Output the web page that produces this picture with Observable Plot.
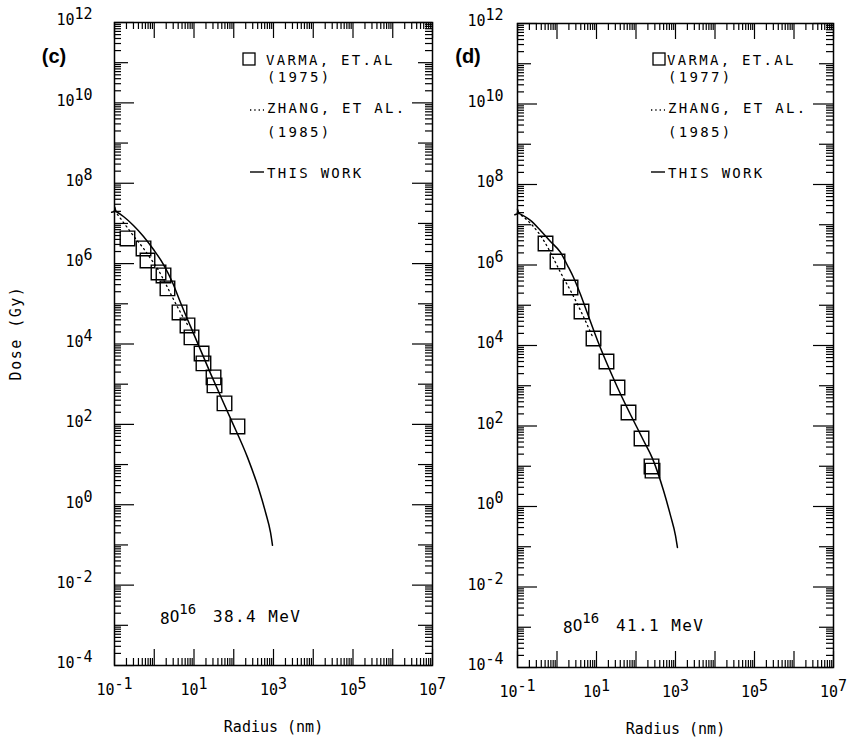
<!DOCTYPE html>
<html><head><meta charset="utf-8">
<script src="https://cdn.jsdelivr.net/npm/d3@7"></script>
<script src="https://cdn.jsdelivr.net/npm/@observablehq/plot@0.6"></script>
<style>
body{margin:0;background:#fff;}
#wrap{position:relative;width:852px;height:746px;overflow:hidden;background:#fff;}
#wrap svg{position:absolute;top:0;}
</style></head><body><div id="wrap"></div>
<script>
// ---- Panel (c): O-16, 38.4 MeV ----
const cVarmaRadius = [0.212,0.537,0.676,1.28,1.71,2.15,4.32,6.86,8.65,15.5,17.3,31,32.8,58.5,124];
const cVarmaDose   = [4.24e6,2.39e6,1.20e6,6.04e5,5.09e5,2.42e5,6.1e4,2.9e4,1.46e4,5.8e3,3.3e3,1.48e3,933,333,89];
const cZhangRadius = [0.1,0.2,0.337,0.537,0.805,1.28,1.92,2.88,4.57,7.28];
const cZhangDose   = [2.1e7,8.4e6,4.24e6,2.39e6,1.35e6,6.8e5,3.2e5,1.44e5,6.1e4,2.74e4];
const cWorkRadius  = [0.1,0.168,0.30,0.537,0.957,1.71,2.88,4.57,8.17,26,82.8,222,420,630,841,944];
const cWorkDose    = [2.1e7,1.49e7,8.9e6,4.75e6,2.25e6,9.5e5,3.4e5,1.08e5,2.74e4,1860,141,15.1,2.57,0.65,0.205,0.098];

// ---- Panel (d): O-16, 41.1 MeV ----
const dVarmaRadius = [0.512,1.03,2.2,4.17,8.4,17.9,34,64.6,138,247,262];
const dVarmaDose   = [3.42e6,1.22e6,2.76e5,7.0e4,1.49e4,4.0e3,906,216,49,9.9,7.8];
const dZhangRadius = [0.1,0.179,0.321,0.512,0.769,1.23,2.2,4.17,7.9];
const dZhangDose   = [2.0e7,1.28e7,6.8e6,3.42e6,1.63e6,6.5e5,2.3e5,6.6e4,1.67e4];
const dWorkRadius  = [0.1,0.213,0.382,0.684,1.23,1.85,2.62,3.94,5.92,10.6,34,155,262,497,746,1000,1120];
const dWorkDose    = [2.0e7,1.28e7,7.2e6,3.84e6,2.05e6,9.7e5,4.9e5,1.85e5,6.2e4,1.33e4,906,43.6,15.5,2.5,0.6,0.19,0.096];

// ---- Axis ticks and labels ----
const xTickValues = [0.1, 10, 1e3, 1e5, 1e7];
const xTickLabels = ["10^-1","10^1","10^3","10^5","10^7"];
const yTickValues = [1e-4,1e-2,1,1e2,1e4,1e6,1e8,1e10,1e12];
const yTickLabels = ["10^-4","10^-2","10^0","10^2","10^4","10^6","10^8","10^10","10^12"];
const xLabel = "Radius (nm)";
const yLabel = "Dose (Gy)";
const legendVarmaC = ["VARMA, ET.AL", "(1975)"];
const legendVarmaD = ["VARMA, ET.AL", "(1977)"];
const legendZhang = ["ZHANG, ET AL.", "(1985)"];
const legendWork = "THIS WORK";

const mono = "'DejaVu Sans Mono','Liberation Mono',monospace";

function pts(rs, ds) { return rs.map((r, i) => ({r, d: ds[i]})); }

function supify(sel) {
  sel.each(function() {
    const t = this.textContent;
    const i = t.indexOf("^");
    if (i < 0) return;
    this.textContent = t.slice(0, i);
    d3.select(this).append("tspan").attr("dy", -6).text(t.slice(i + 1));
  });
}

function makePanel(cfg) {
  const H = 746;
  const {width, mL, mR, mT, mB} = cfg;
  const fw = width - mL - mR, fh = H - mT - mB;
  const decX = d3.range(-1, 8).map(e => Math.pow(10, e));
  const minX = d3.range(-1, 7).flatMap(e => d3.range(2, 10).map(m => m * Math.pow(10, e)));
  const decYeven = d3.range(-4, 13, 2).map(e => Math.pow(10, e));
  const decYodd = d3.range(-3, 12, 2).map(e => Math.pow(10, e));
  const minY = d3.range(-4, 12).flatMap(e => d3.range(2, 10).map(m => m * Math.pow(10, e)));
  const tk = {stroke: "black", strokeWidth: 1.2};
  const plot = Plot.plot({
    width, height: H, marginLeft: mL, marginRight: mR, marginTop: mT, marginBottom: mB,
    x: {type: "log", domain: [0.1, 1e7], axis: null},
    y: {type: "log", domain: [1e-4, 1e12], axis: null},
    style: {background: "none", overflow: "visible"},
    marks: [
      // inward ticks on four sides
      Plot.tickX(decX, {x: d => d, insetTop: fh - 16, ...tk}),
      Plot.tickX(decX, {x: d => d, insetBottom: fh - 16, ...tk}),
      Plot.tickX(minX, {x: d => d, insetTop: fh - 7, ...tk}),
      Plot.tickX(minX, {x: d => d, insetBottom: fh - 7, ...tk}),
      Plot.tickY(decYeven, {y: d => d, insetRight: fw - 20, ...tk}),
      Plot.tickY(decYeven, {y: d => d, insetLeft: fw - 20, ...tk}),
      Plot.tickY(decYodd, {y: d => d, insetRight: fw - 14, ...tk}),
      Plot.tickY(decYodd, {y: d => d, insetLeft: fw - 14, ...tk}),
      Plot.tickY(minY, {y: d => d, insetRight: fw - 7, ...tk}),
      Plot.tickY(minY, {y: d => d, insetLeft: fw - 7, ...tk}),
      Plot.frame({stroke: "black", strokeWidth: 1.5}),
      // tick labels
      Plot.text(xTickValues, {x: d => d, frameAnchor: "bottom", text: (d, i) => xTickLabels[i],
        dy: 29, fontFamily: mono, fontSize: 15, fill: "black", className: "suplab"}),
      Plot.text(yTickValues, {y: d => d, frameAnchor: "left", text: (d, i) => yTickLabels[i],
        textAnchor: "end", dx: -cfg.yLabGap, dy: -2, fontFamily: mono, fontSize: 15, fill: "black", className: "suplab"}),
      Plot.text([xLabel], {frameAnchor: "bottom", text: d => d, dy: 66, fontFamily: mono, fontSize: 15,
        fill: "black", letterSpacing: 1.5}),
      // data
      Plot.line(pts(cfg.zhangR, cfg.zhangD), {x: "r", y: "d", curve: "monotone-x", stroke: "black",
        strokeWidth: 1.3, strokeDasharray: "1.3,3.5"}),
      Plot.line(pts(cfg.workR, cfg.workD), {x: "r", y: "d", curve: "monotone-x", stroke: "black",
        strokeWidth: 1.5, markerStart: "arrow"}),
      Plot.dot(pts(cfg.varmaR, cfg.varmaD), {x: "r", y: "d", symbol: "square", r: 8.2, stroke: "black",
        fill: "none", strokeWidth: 1.4})
    ]
  });
  const svg = d3.select(plot);
  svg.style("left", cfg.svgLeft + "px").style("overflow", "visible");
  supify(svg.selectAll("g.suplab text"));

  const fl = mL;
  // panel tag
  svg.append("text").attr("x", cfg.tagX).attr("y", 63).attr("text-anchor", "middle")
    .attr("font-family", "'Liberation Sans',Arial,sans-serif").attr("font-weight", "bold")
    .attr("font-size", 20).attr("fill", "black").text(cfg.tag);

  // legend
  const lg = svg.append("g").attr("font-family", mono).attr("font-size", 14)
    .attr("letter-spacing", 2.3).attr("fill", "black").attr("text-anchor", "start");
  const tx = fl + cfg.legText;
  lg.append("rect").attr("x", fl + cfg.legSq - 6).attr("y", 53).attr("width", 12).attr("height", 12)
    .attr("fill", "none").attr("stroke", "black").attr("stroke-width", 1.3);
  lg.append("text").attr("x", tx).attr("y", 65).text(cfg.varmaLegend[0]);
  lg.append("text").attr("x", tx + 1).attr("y", 82).text(cfg.varmaLegend[1]);
  lg.append("line").attr("x1", fl + cfg.legL1).attr("x2", fl + cfg.legL2).attr("y1", 110).attr("y2", 110)
    .attr("stroke", "black").attr("stroke-width", 1.3).attr("stroke-dasharray", "1.3,3");
  lg.append("text").attr("x", tx + 1).attr("y", 113).text(legendZhang[0]);
  lg.append("text").attr("x", tx + 1).attr("y", 137).text(legendZhang[1]);
  lg.append("line").attr("x1", fl + cfg.legL1).attr("x2", fl + cfg.legL2).attr("y1", 172).attr("y2", 172)
    .attr("stroke", "black").attr("stroke-width", 1.4);
  lg.append("text").attr("x", tx + 1).attr("y", 178).text(legendWork);

  // ion / energy annotation
  const ax = fl + cfg.annX;
  const an = svg.append("text").attr("x", ax).attr("y", cfg.annY).attr("text-anchor", "start")
    .attr("font-family", mono).attr("font-size", 16).attr("fill", "black");
  an.append("tspan").attr("dy", 2).text("8");
  an.append("tspan").attr("dy", -2).text("O");
  an.append("tspan").attr("dy", -8).attr("font-size", 14).text("16");
  an.append("tspan").attr("x", ax + 53).attr("dy", 8).attr("letter-spacing", 1.4).text(cfg.energy);

  if (cfg.showY) {
    svg.append("text").attr("transform", `translate(21,${cfg.yLabY}) rotate(-90)`)
      .attr("text-anchor", "middle").attr("font-family", mono).attr("font-size", 15)
      .attr("letter-spacing", 1.5).attr("fill", "black").text(yLabel);
  }
  return plot;
}

const wrap = document.getElementById("wrap");
wrap.appendChild(makePanel({
  svgLeft: 0, width: 440, mL: 114, mR: 8, mT: 22, mB: 81, yLabGap: 22,
  varmaR: cVarmaRadius, varmaD: cVarmaDose, zhangR: cZhangRadius, zhangD: cZhangDose,
  workR: cWorkRadius, workD: cWorkDose,
  tag: "(c)", tagX: 54, varmaLegend: legendVarmaC,
  legText: 152, legSq: 135, legL1: 136, legL2: 150,
  annX: 46, annY: 622, energy: "38.4 MeV", showY: true, yLabY: 333
}));
wrap.appendChild(makePanel({
  svgLeft: 440, width: 412, mL: 77, mR: 19, mT: 23, mB: 79, yLabGap: 14,
  varmaR: dVarmaRadius, varmaD: dVarmaDose, zhangR: dZhangRadius, zhangD: dZhangDose,
  workR: dWorkRadius, workD: dWorkDose,
  tag: "(d)", tagX: 28, varmaLegend: legendVarmaD,
  legText: 150, legSq: 142, legL1: 134, legL2: 148,
  annX: 46, annY: 631, energy: "41.1 MeV", showY: false
}));
</script>
</body></html>
